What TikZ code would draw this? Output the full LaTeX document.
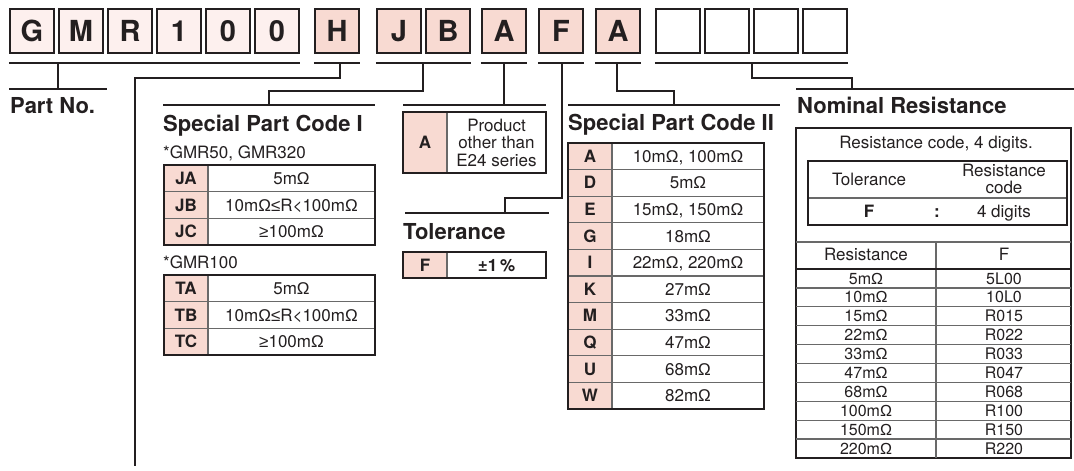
\documentclass[tikz,border=0pt]{standalone}
\usepackage{fontspec}
\setmainfont{TeX Gyre Heros}
\newfontfamily\symfont{Liberation Sans}
\newcommand{\Om}{{\symfont Ω}}
\newcommand{\LE}{{\symfont ≤}}
\newcommand{\GE}{{\symfont ≥}}
\definecolor{pk}{RGB}{248,218,210}
\definecolor{pl}{RGB}{253,240,238}
\definecolor{dk}{RGB}{35,31,32}
\definecolor{gr}{RGB}{105,105,105}
\begin{document}
\begin{tikzpicture}[x=1pt,y=-1pt,
  topbox/.style={draw=dk, line width=2.4pt, minimum width=44pt, minimum height=44pt, inner sep=0pt, text=dk, font=\fontsize{29}{29}\selectfont\bfseries},
  topL/.style={topbox, fill=pl},
  topP/.style={topbox, fill=pk},
  topW/.style={topbox, fill=white},
  ul/.style={draw=dk, line width=2.3pt},
  ln/.style={draw=dk, line width=2pt},
  frame/.style={draw=dk, line width=2.2pt},
  grid/.style={draw=gr, line width=1.3pt},
  hd/.style={anchor=base west, inner sep=0pt, text=dk, font=\fontsize{22}{24}\selectfont\bfseries},
  cb/.style={anchor=base, inner sep=0pt, text=dk, font=\fontsize{17}{19}\selectfont\bfseries},
  cv/.style={anchor=base, inner sep=0pt, text=dk, font=\fontsize{17}{19}\selectfont},
  cs/.style={anchor=base, inner sep=0pt, text=dk, font=\fontsize{16}{18}\selectfont},
]
\path[use as bounding box] (0,0) rectangle (1074,471);

% ---------- top code boxes ----------
\foreach \n/\x/\t in {g1/32/G, g2/81/M, g3/130/R, g4/179/1, g5/228/0, g6/277/0}
  \node[topL] (\n) at (\x,31) {\t};
\foreach \n/\x/\t in {hh/337/H, jj/399/J, bb/448/B, aa/504/A, ff/561/F, a2/618/A}
  \node[topP] (\n) at (\x,31) {\t};
\foreach \n/\x in {n1/678, n2/727, n3/776, n4/825}
  \node[topW] (\n) at (\x,31) {};

% ---------- underlines ----------
\coordinate (uy) at (0,63);
\draw[ul] (g1.west |- uy) -- (g6.east |- uy);
\draw[ul] (hh.west |- uy) -- (hh.east |- uy);
\draw[ul] (jj.west |- uy) -- (bb.east |- uy);
\draw[ul] (aa.west |- uy) -- (aa.east |- uy);
\draw[ul] (ff.west |- uy) -- (ff.east |- uy);
\draw[ul] (a2.west |- uy) -- (a2.east |- uy);
\draw[ul] (n1.west |- uy) -- (n4.east |- uy);

% ---------- heading rules (named ends) ----------
\coordinate (pnL) at (9,89);    \coordinate (pnR) at (107,89);
\coordinate (s1L) at (163,105); \coordinate (s1R) at (375,105);
\coordinate (prL) at (403,105); \coordinate (prR) at (546,105);
\coordinate (toL) at (405,213); \coordinate (toR) at (549,213);
\coordinate (s2L) at (568,105); \coordinate (s2R) at (780,105);
\coordinate (nrL) at (796,89);  \coordinate (nrR) at (1074,89);
\foreach \a/\b in {pnL/pnR, s1L/s1R, prL/prR, toL/toR, s2L/s2R, nrL/nrR}
  \draw[ln] (\a) -- (\b);

% ---------- connectors ----------
\coordinate (cPN) at (58,63);   \coordinate (ePN) at (58,89);
\draw[ln] (cPN) -- (ePN);
\coordinate (cH) at (340,63);   \coordinate (hEnd) at (135,466);
\draw[ln] (cH) -- (340,78) -- (135,78) -- (hEnd);
\coordinate (cJB) at (423,63);  \coordinate (eJB) at (269,105);
\draw[ln] (cJB) -- (423,91) -- (269,91) -- (eJB);
\coordinate (cA) at (504,63);   \coordinate (eA) at (504,105);
\draw[ln] (cA) -- (eA);
\coordinate (cF) at (561.5,63); \coordinate (eF) at (505,213);
\draw[ln] (cF) -- (561.5,198) -- (505,198) -- (eF);
\coordinate (cA2) at (617,63);  \coordinate (eA2) at (674,105);
\draw[ln] (cA2) -- (617,91) -- (674,91) -- (eA2);
\coordinate (cN) at (752,63);   \coordinate (eN) at (852,89);
\draw[ln] (cN) -- (752,78) -- (852,78) -- (eN);

% ---------- headings ----------
\node[hd] (hPN) at (10,113) {Part No.};
\node[hd] (hS1) at (163,131) {Special Part Code I};
\node[hd] (hTo) at (403,239) {Tolerance};
\node[hd] (hS2) at (568,130) {Special Part Code II};
\node[hd] (hNR) at (797,113) {Nominal Resistance};

% ---------- Special Part Code I tables ----------
\node[cv, anchor=base west] (g50) at (163,158.5) {*GMR50, GMR320};
\fill[pk] (164,165) rectangle (208,245);
\draw[grid] (164,191.7) -- (375,191.7) (164,218.3) -- (375,218.3) (208,165) -- (208,245);
\draw[frame] (164,165) rectangle (375,245);
\foreach \c/\v [count=\i from 0] in {JA/5m\Om, JB/{10m\Om\LE R<100m\Om}, JC/{\GE100m\Om}} {
  \pgfmathsetmacro\yy{165+26.67*\i+13.33+6}
  \node[cb] (s1c\i) at (186,\yy) {\c};
  \node[cv] (s1v\i) at (291.5,\yy) {\v};
}
\node[cv, anchor=base west] (g100) at (163,268) {*GMR100};
\fill[pk] (164,275) rectangle (208,355);
\draw[grid] (164,301.7) -- (375,301.7) (164,328.3) -- (375,328.3) (208,275) -- (208,355);
\draw[frame] (164,275) rectangle (375,355);
\foreach \c/\v [count=\i from 0] in {TA/5m\Om, TB/{10m\Om\LE R<100m\Om}, TC/{\GE100m\Om}} {
  \pgfmathsetmacro\yy{275+26.67*\i+13.33+6}
  \node[cb] (s1t\i) at (186,\yy) {\c};
  \node[cv] (s1w\i) at (291.5,\yy) {\v};
}

% ---------- Product box ----------
\fill[pk] (403,112) rectangle (447,173);
\draw[grid] (447,112) -- (447,173);
\draw[frame] (403,112) rectangle (546,173);
\node[cb] (prA) at (425,148.5) {A};
\node[cv, anchor=center, align=center, font=\fontsize{17}{17.5}\selectfont] (prT) at (496.5,142.5) {Product\\other than\\E24 series};

% ---------- Tolerance table ----------
\fill[pk] (403,252) rectangle (447,278);
\draw[grid] (447,252) -- (447,278);
\draw[frame] (403,252) rectangle (546,278);
\node[cb] (toF) at (425,271) {F};
\node[cb] (toV) at (496.5,271) {±1\,\%};

% ---------- Special Part Code II table ----------
\fill[pk] (568,143) rectangle (612,409);
\foreach \i in {1,...,9} \draw[grid] (568,143+26.6*\i) -- (764,143+26.6*\i);
\draw[grid] (612,143) -- (612,409);
\draw[frame] (568,143) rectangle (764,409);
\foreach \c/\v [count=\i from 0] in {A/{10m\Om, 100m\Om}, D/5m\Om, E/{15m\Om, 150m\Om}, G/18m\Om, I/{22m\Om, 220m\Om}, K/27m\Om, M/33m\Om, Q/47m\Om, U/68m\Om, W/82m\Om} {
  \pgfmathsetmacro\yy{143+26.6*\i+13.3+6}
  \node[cb] (s2c\i) at (590,\yy) {\c};
  \node[cv] (s2v\i) at (688,\yy) {\v};
}

% ---------- Nominal Resistance ----------
\draw[frame] (796,128) rectangle (1071,458);
\node[cv] (nrT) at (936,148) {Resistance code, 4 digits.};
\draw[grid] (808,198) -- (1067,198);
\draw[frame] (808,161) rectangle (1067,225);
\node[cv] (nrTol) at (869,185.5) {Tolerance};
\node[cv, anchor=center, align=center, font=\fontsize{17}{17.5}\selectfont] (nrRC) at (1004,179) {Resistance\\code};
\node[cb] (nrF) at (869,217) {F};
\node[cb] (nrC) at (937,217) {:};
\node[cv] (nrD) at (1004,217) {4 digits};
\draw[grid] (796,242) -- (1071,242);
\draw[grid] (936,242) -- (936,458);
\node[cv] (nrH1) at (866,260.5) {Resistance};
\node[cv] (nrH2) at (1004,260.5) {F};
\draw[frame] (796,269) -- (1071,269);
\foreach \i in {1,...,9} \draw[grid] (796,269+18.9*\i) -- (1071,269+18.9*\i);
\foreach \r/\f [count=\i from 0] in {5m\Om/5L00, 10m\Om/10L0, 15m\Om/R015, 22m\Om/R022, 33m\Om/R033, 47m\Om/R047, 68m\Om/R068, 100m\Om/R100, 150m\Om/R150, 220m\Om/R220} {
  \pgfmathsetmacro\yy{269+18.9*\i+9.45+5.6}
  \node[cs] (nrr\i) at (866,\yy) {\r};
  \node[cs] (nrf\i) at (1004,\yy) {\f};
}
\end{tikzpicture}
\end{document}
